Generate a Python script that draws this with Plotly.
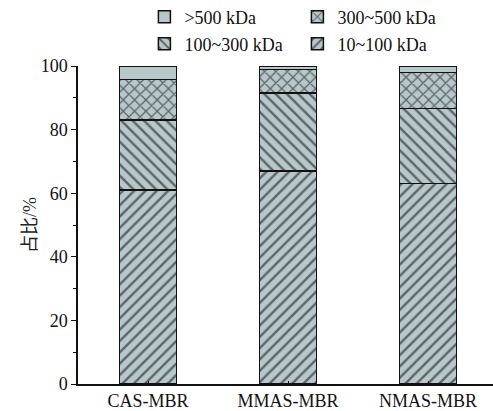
import plotly.graph_objects as go

categories = ["CAS-MBR", "MMAS-MBR", "NMAS-MBR"]
s_10_100 = [61.0, 67.0, 63.1]
s_100_300 = [22.0, 24.5, 23.6]
s_300_500 = [12.8, 7.4, 11.2]
s_500 = [4.2, 1.1, 2.1]
series_names = ["10~100 kDa", "100~300 kDa", "300~500 kDa", ">500 kDa"]
series_values = [s_10_100, s_100_300, s_300_500, s_500]
shapes = ["/", "\\", "x", ""]
legend_rows = ["legend2", "legend2", "legend", "legend"]
y_title = "占比/%"

FILL = "#b8c8ca"
FONT = "'Liberation Serif', 'Times New Roman', 'Noto Sans CJK SC', serif"

fig = go.Figure()
for name, vals, shp, lg in zip(series_names, series_values, shapes, legend_rows):
    fig.add_trace(go.Bar(
        x=categories, y=vals, name=name, width=0.41, legend=lg,
        marker=dict(color=FILL, line=dict(color="#111111", width=1.5),
                    pattern=dict(shape=shp, fgcolor="#000000", bgcolor=FILL,
                                 size=8, solidity=0.3, fillmode="overlay")),
    ))

leg_common = dict(orientation="h", traceorder="reversed", x=0.16,
                  xanchor="left", yanchor="middle", entrywidth=108,
                  font=dict(size=18), itemwidth=30, tracegroupgap=0,
                  bgcolor="rgba(0,0,0,0)")

fig.add_annotation(text=y_title, textangle=-90, xref="paper", yref="paper",
                   x=(30 - 78) / 415, y=0.5, xanchor="center", yanchor="middle",
                   showarrow=False, font=dict(size=18, color="#222222"))

fig.update_layout(
    barmode="stack",
    width=493, height=411,
    margin=dict(l=78, r=0, t=66, b=27, autoexpand=False),
    paper_bgcolor="white", plot_bgcolor="white",
    font=dict(family=FONT, size=18, color="#111111"),
    showlegend=True,
    legend=dict(y=(384 - 17) / 318, **leg_common),
    legend2=dict(y=(384 - 44) / 318, **leg_common),
    xaxis=dict(range=[-0.5, 2.464], showline=True, linecolor="#111111", linewidth=1.5,
               ticks="inside", ticklen=3, tickcolor="#111111", showgrid=False,
               tickfont=dict(size=18), zeroline=False),
    yaxis=dict(range=[0, 100], dtick=20, showline=True, linecolor="#111111", linewidth=1.5,
               ticks="outside", ticklen=5, tickcolor="#111111", showgrid=False,
               minor=dict(dtick=10, ticks="outside", ticklen=3, tickcolor="#111111"),
               tickfont=dict(size=18), zeroline=False),
)

fig.write_html("out.html")
